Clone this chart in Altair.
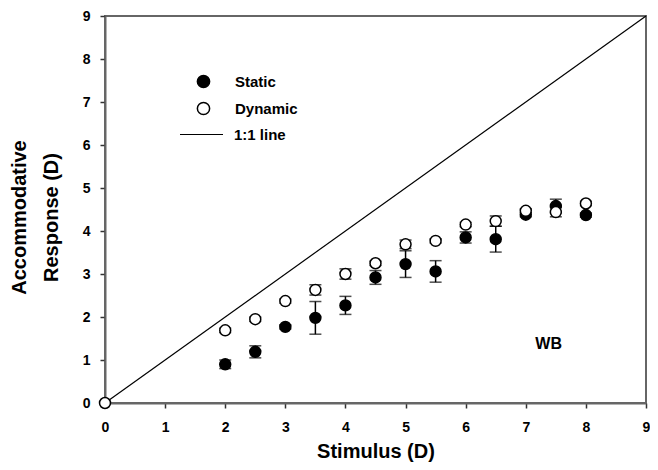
import altair as alt
import pandas as pd

# ---- data ----
stim_static = [2, 2.5, 3, 3.5, 4, 4.5, 5, 5.5, 6, 6.5, 7, 7.5, 8]
resp_static = [0.90, 1.19, 1.77, 1.98, 2.27, 2.92, 3.23, 3.06, 3.85, 3.81, 4.38, 4.58, 4.37]
err_static = [0.10, 0.14, 0.05, 0.38, 0.21, 0.16, 0.31, 0.25, 0.13, 0.30, 0.05, 0.16, 0.05]

stim_dynamic = [0, 2, 2.5, 3, 3.5, 4, 4.5, 5, 5.5, 6, 6.5, 7, 7.5, 8]
resp_dynamic = [0.0, 1.69, 1.95, 2.37, 2.63, 3.00, 3.25, 3.69, 3.77, 4.15, 4.23, 4.47, 4.44, 4.64]
err_dynamic = [0.0, 0.05, 0.05, 0.05, 0.12, 0.12, 0.05, 0.10, 0.05, 0.05, 0.12, 0.05, 0.11, 0.05]

series_names = ["Static", "Dynamic"]
line_label = ["1:1 line"]
line_x = [0, 9]
line_y = [0, 9]
annot_x = [7.38]
annot_y = [1.37]
annot_text = ["WB"]
tick_values = list(range(10))

FONT = "Liberation Sans"

rows = []
for x, y, e in zip(stim_static, resp_static, err_static):
    rows.append({"stim": x, "resp": y, "lo": y - e, "hi": y + e, "series": "Static"})
for x, y, e in zip(stim_dynamic, resp_dynamic, err_dynamic):
    rows.append({"stim": x, "resp": y, "lo": y - e, "hi": y + e, "series": "Dynamic"})
df = pd.DataFrame(rows)
df_err = df[df["hi"] > df["lo"]]

df_line = pd.DataFrame({"stim": line_x, "resp": line_y, "label": line_label * len(line_x)})
df_annot = pd.DataFrame({"stim": annot_x, "resp": annot_y, "text": annot_text})

xscale = alt.Scale(domain=[0, 9], nice=False, zero=False, padding=0)
yscale = alt.Scale(domain=[0, 9], nice=False, zero=False, padding=0)

xaxis = alt.Axis(values=tick_values, format="d", title="Stimulus (D)", grid=False,
                 labelPadding=12, titlePadding=7, labelFlush=False)
yaxis = alt.Axis(values=tick_values, format="d", title=["Accommodative", "Response (D)"],
                 grid=False, labelPadding=10, titlePadding=21, titleLineHeight=32,
                 titleY=201, labelFlush=False)


def X(field="stim"):
    return alt.X(f"{field}:Q", scale=xscale, axis=xaxis)


def Y(field="resp"):
    return alt.Y(f"{field}:Q", scale=yscale, axis=yaxis)


line = alt.Chart(df_line).mark_line(strokeWidth=1.2).encode(
    x=X(), y=Y(),
    stroke=alt.Stroke("label:N", scale=alt.Scale(domain=line_label, range=["black"]),
                      legend=alt.Legend(orient="none", legendX=74, legendY=96, title=None,
                                        symbolType="stroke", symbolSize=1849,
                                        symbolStrokeWidth=1.2, symbolStrokeColor="black",
                                        labelFont=FONT, labelFontSize=15, labelFontWeight="bold",
                                        labelColor="black", labelOffset=10, padding=0)),
)

rules = alt.Chart(df_err).mark_rule(color="black", strokeWidth=1.5).encode(
    x=X(), y=Y("lo"), y2="hi:Q")
caps_lo = alt.Chart(df_err).mark_tick(color="black", orient="horizontal", size=12,
                                      thickness=1.5).encode(x=X(), y=Y("lo"))
caps_hi = alt.Chart(df_err).mark_tick(color="black", orient="horizontal", size=12,
                                      thickness=1.5).encode(x=X(), y=Y("hi"))

points = alt.Chart(df).mark_point(shape="circle", filled=True, size=120, stroke="black",
                                  strokeWidth=1.5, opacity=1).encode(
    x=X(), y=Y(),
    fill=alt.Fill("series:N", scale=alt.Scale(domain=series_names, range=["black", "white"]),
                  legend=alt.Legend(orient="none", legendX=91, legendY=58, title=None,
                                    symbolType="circle", symbolSize=150,
                                    symbolStrokeColor="black", symbolStrokeWidth=1.5,
                                    symbolOpacity=1,
                                    labelFont=FONT, labelFontSize=15, labelFontWeight="bold",
                                    labelColor="black", labelOffset=24, rowPadding=8,
                                    padding=0)),
)

annot = alt.Chart(df_annot).mark_text(font=FONT, fontSize=16, fontWeight="bold",
                                      color="black").encode(
    x=X(), y=Y(), text="text:N")

chart = alt.layer(line, rules, caps_lo, caps_hi, points, annot).properties(
    width=541, height=387,
    background="white",
    autosize=alt.AutoSizeParams(type="none"),
    padding={"left": 97, "top": 8, "right": 4, "bottom": 59},
).configure_view(stroke="#666666", strokeWidth=2).configure_axis(
    domainColor="#666666", domainWidth=2, tickColor="#333333", tickWidth=1.5, tickSize=5,
    labelFont=FONT, labelFontSize=14, labelFontWeight="bold", labelColor="black",
    titleFont=FONT, titleFontSize=20, titleFontWeight="bold", titleColor="black",
)

chart.save("out.html", embed_options={"renderer": "svg", "actions": False})
